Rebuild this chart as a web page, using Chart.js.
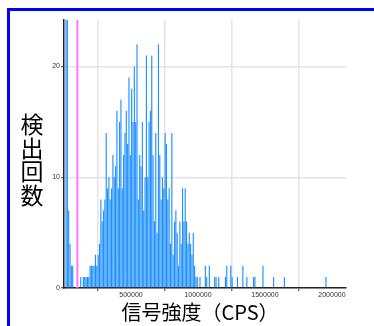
<!DOCTYPE html>
<html>
<head>
<meta charset="utf-8">
<script src="https://cdn.jsdelivr.net/npm/chart.js@4.4.1/dist/chart.umd.min.js"></script>
<style>
  html, body { margin: 0; padding: 0; background: #fff; }
  body { width: 374px; height: 326px; position: relative; overflow: hidden; font-family: "Noto Sans CJK JP", sans-serif; }
  #frame { position: absolute; left: 7px; top: 8px; width: 420px; height: 420px; box-sizing: border-box;
           border-left: 3px solid #0000ff; border-top: 3px solid #0000ff; }
  #wrap { position: absolute; left: 0; top: 0; width: 374px; height: 326px; }
  #yTitle { position: absolute; left: 20px; top: 113px; writing-mode: vertical-rl; text-orientation: upright;
            font-size: 23px; line-height: 23px; letter-spacing: 0.5px; color: #000; }
  #xTitle { position: absolute; left: 0; top: 301px; width: 400px; text-align: center;
            font-size: 20px; line-height: 22px; color: #000; }
</style>
</head>
<body>
<div id="frame"></div>
<div id="wrap"><canvas id="chart" width="374" height="326"></canvas></div>
<div id="yTitle">検出回数</div>
<div id="xTitle">信号強度（CPS）</div>
<script>
// 検出回数 per 10000 CPS bin
const BIN_WIDTH = 10000;
const counts = [
  0, 30, 30, 7, 4, 2, 2, 0, 0, 0,          // 0 - 90000
  0, 0, 1, 0, 1, 1, 1, 1, 1, 2,
  2, 2, 2, 3, 2, 3, 4, 8, 6, 7,
  8, 14, 9, 10, 8, 9, 12, 10, 11, 16,
  9, 15, 17, 9, 12, 14, 16, 13, 19, 12,
  18, 15, 20, 15, 22, 8, 12, 11, 15, 7,    // 500000 -
  10, 21, 10, 15, 16, 21, 12, 6, 14, 5,
  22, 12, 8, 10, 9, 14, 13, 8, 9, 4,
  14, 3, 6, 7, 5, 2, 6, 4, 9, 6,
  9, 6, 4, 5, 4, 3, 5, 2, 1, 1,
  0, 1, 0, 0, 0, 2, 1, 0, 2, 0,            // 1000000 -
  0, 0, 1, 1, 0, 1, 0, 0, 0, 0,
  1, 2, 0, 0, 2, 1, 0, 0, 0, 1,
  0, 0, 0, 2, 0, 0, 1, 0, 0, 0,
  0, 1, 1, 0, 0, 0, 0, 0, 2, 0,
  0, 0, 0, 0, 0, 0, 1, 0, 0, 0,            // 1500000 -
  0, 0, 0, 0, 1, 0, 0, 0, 0, 0,
  0, 0, 0, 0, 0, 0, 0, 0, 0, 0,
  0, 0, 0, 0, 0, 0, 0, 0, 0, 0,
  0, 0, 0, 0, 0, 1
];
const binCentres = counts.map((_, i) => i * BIN_WIDTH + BIN_WIDTH / 2);
const xTicks = [500000, 1000000, 1500000, 2000000];
const yTicks = [0, 10, 20];
const threshold = 100000;
const X_MAX = 2105000;
const Y_MAX = 24.2;

const gridColor = "#e4e4e4";
const axisColor = "#222";
const tickFont = { family: "Liberation Sans", size: 7 };

new Chart(document.getElementById("chart"), {
  type: "bar",
  data: {
    datasets: [
      {
        type: "line",
        data: [{ x: threshold, y: 0 }, { x: threshold, y: Y_MAX }],
        borderColor: "#ff77ff",
        borderWidth: 2,
        pointRadius: 0,
        order: 0,
      },
      {
        data: counts.map((c, i) => ({ x: binCentres[i], y: c })),
        backgroundColor: "#1e90ff",
        borderWidth: 0,
        barPercentage: 0.85,
        categoryPercentage: 1,
        order: 1,
      },
    ],
  },
  options: {
    responsive: false,
    animation: false,
    layout: { padding: { top: 20, right: 28, left: 0, bottom: 0 } },
    plugins: { legend: { display: false }, tooltip: { enabled: false } },
    scales: {
      x: {
        type: "linear",
        min: 0,
        max: X_MAX,
        offset: false,
        afterBuildTicks: s => { s.ticks = xTicks.map(v => ({ value: v })); },
        afterFit: s => { s.height = 38; },
        ticks: { color: "#333", font: tickFont, padding: 0, maxRotation: 0, autoSkip: false, callback: v => String(v) },
        grid: { color: gridColor, lineWidth: 1.5, tickColor: "#333", tickLength: 3, tickWidth: 1 },
        border: { color: axisColor, width: 1.5 },
      },
      y: {
        min: 0,
        max: Y_MAX,
        afterBuildTicks: s => { s.ticks = yTicks.map(v => ({ value: v })); },
        afterFit: s => { s.width = 64; },
        ticks: { color: "#333", font: tickFont, padding: 1 },
        grid: { color: gridColor, lineWidth: 1.5, tickColor: "#333", tickLength: 3, tickWidth: 1 },
        border: { color: axisColor, width: 1.5 },
      },
    },
  },
});
</script>
</body>
</html>
